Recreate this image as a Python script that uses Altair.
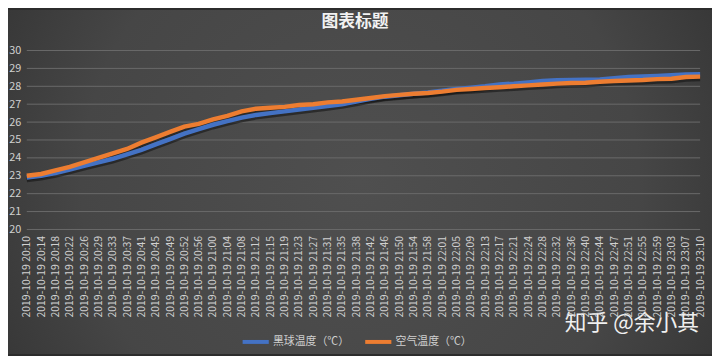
import altair as alt
import pandas as pd

times = ["20:10", "20:14", "20:18", "20:22", "20:26", "20:29", "20:33", "20:37", "20:41", "20:45",
         "20:49", "20:52", "20:56", "21:00", "21:04", "21:08", "21:12", "21:15", "21:19", "21:23",
         "21:27", "21:31", "21:35", "21:38", "21:42", "21:46", "21:50", "21:54", "21:58", "22:01",
         "22:05", "22:09", "22:13", "22:17", "22:21", "22:24", "22:28", "22:32", "22:36", "22:40",
         "22:44", "22:47", "22:51", "22:55", "22:59", "23:03", "23:07", "23:10"]
labels = ["2019-10-19 " + t for t in times]

globe = [22.9, 23.0, 23.15, 23.35, 23.55, 23.75, 23.95, 24.2, 24.45, 24.75,
         25.05, 25.35, 25.6, 25.85, 26.05, 26.25, 26.4, 26.5, 26.6, 26.7,
         26.8, 26.9, 27.0, 27.15, 27.3, 27.42, 27.5, 27.58, 27.65, 27.75,
         27.85, 27.92, 28.0, 28.1, 28.15, 28.22, 28.3, 28.34, 28.35, 28.36,
         28.38, 28.45, 28.52, 28.55, 28.58, 28.62, 28.66, 28.67]
air = [23.0, 23.1, 23.3, 23.5, 23.75, 24.0, 24.25, 24.5, 24.85, 25.15,
       25.45, 25.75, 25.9, 26.15, 26.35, 26.6, 26.75, 26.8, 26.85, 26.95,
       27.0, 27.1, 27.15, 27.25, 27.35, 27.45, 27.52, 27.58, 27.62, 27.7,
       27.8, 27.85, 27.9, 27.95, 28.0, 28.05, 28.1, 28.15, 28.18, 28.2,
       28.25, 28.3, 28.32, 28.35, 28.4, 28.42, 28.52, 28.54]

y_ticks = [20, 21, 22, 23, 24, 25, 26, 27, 28, 29, 30]

title_text = "图表标题"
watermark = "知乎 @余小其"

s_globe = "黑球温度（℃）"
s_air = "空气温度（℃）"

rows = []
for i, lab in enumerate(labels):
    rows.append({"time": lab, "series": s_globe, "value": globe[i], "order": 0})
for i, lab in enumerate(labels):
    rows.append({"time": lab, "series": s_air, "value": air[i], "order": 1})
df = pd.DataFrame(rows)

FONT = "Noto Sans CJK SC"

x = alt.X("time:N", sort=labels, title=None,
          scale=alt.Scale(type="point", padding=0),
          axis=alt.Axis(labelAngle=270, labelFontSize=10.5, labelColor="#d0d0d0",
                        labelFont=FONT, ticks=False, domain=False, grid=False,
                        labelPadding=6, labelOverlap=False, zindex=1))
yscale = alt.Scale(domain=[20, 30], nice=False, zero=False)
yaxis = alt.Axis(values=y_ticks, labelFontSize=11, labelColor="#d0d0d0",
                 labelFont=FONT, ticks=False, domain=False, grid=False,
                 labelPadding=6, labelOverlap=False, zindex=1)
y = alt.Y("value:Q", title=None, scale=yscale, axis=yaxis)

bg_fill = {
    "gradient": "radial",
    "x1": 0.5, "y1": 0.5, "r1": 0,
    "x2": 0.5, "y2": 0.5, "r2": 0.72,
    "stops": [{"offset": 0, "color": "#4f4f4f"},
              {"offset": 0.55, "color": "#464646"},
              {"offset": 1, "color": "#2a2a2a"}],
}
bg = alt.Chart(pd.DataFrame({"a": [0]})).mark_rect(fill=bg_fill, strokeWidth=0).encode(
    x=alt.value(-19), x2=alt.value(693), y=alt.value(-41), y2=alt.value(307)
)

grid = alt.Chart(pd.DataFrame({"v": y_ticks})).mark_rule(color="#6a6a6a", strokeWidth=1).encode(
    y=alt.Y("v:Q", title=None, scale=yscale, axis=yaxis)
)

shadow = alt.Chart(df).mark_line(strokeWidth=4.5, yOffset=2.5, color="#111111", opacity=0.55).encode(
    x=x, y=y, detail="series:N", order=alt.Order("order:Q")
)

lines = alt.Chart(df).mark_line(strokeWidth=4.5).encode(
    x=x, y=y,
    color=alt.Color("series:N", sort=[s_globe, s_air],
                    scale=alt.Scale(domain=[s_globe, s_air], range=["#4472C4", "#ED7D31"]),
                    legend=alt.Legend(orient="none", legendX=216, legendY=279, direction="horizontal",
                                      title=None, symbolType="stroke", symbolStrokeWidth=4,
                                      symbolSize=700, labelFontSize=11, labelColor="#d0d0d0",
                                      labelFont=FONT, columnPadding=8, labelOffset=2, zindex=2)),
)

ttl = alt.Chart(pd.DataFrame({"t": [title_text]})).mark_text(
    font=FONT, fontSize=17, fontWeight="bold", color="#f2f2f2", align="center", baseline="middle"
).encode(x=alt.value(332), y=alt.value(-29), text="t:N")

wm = alt.Chart(pd.DataFrame({"t": [watermark]})).mark_text(
    font=FONT, fontSize=22, color="#ffffff", opacity=0.92, align="center", baseline="middle"
).encode(x=alt.value(612), y=alt.value(276), text="t:N")

chart = alt.layer(bg, grid, shadow, lines, ttl, wm).properties(
    width=681, height=181,
    autosize=alt.AutoSizeParams(type="none"),
    padding={"left": 19, "top": 41, "right": 12, "bottom": 126},
    background="#2c2c2c",
).configure_view(stroke=None)

chart.save("out.html", embed_options={"renderer": "svg", "actions": False})
